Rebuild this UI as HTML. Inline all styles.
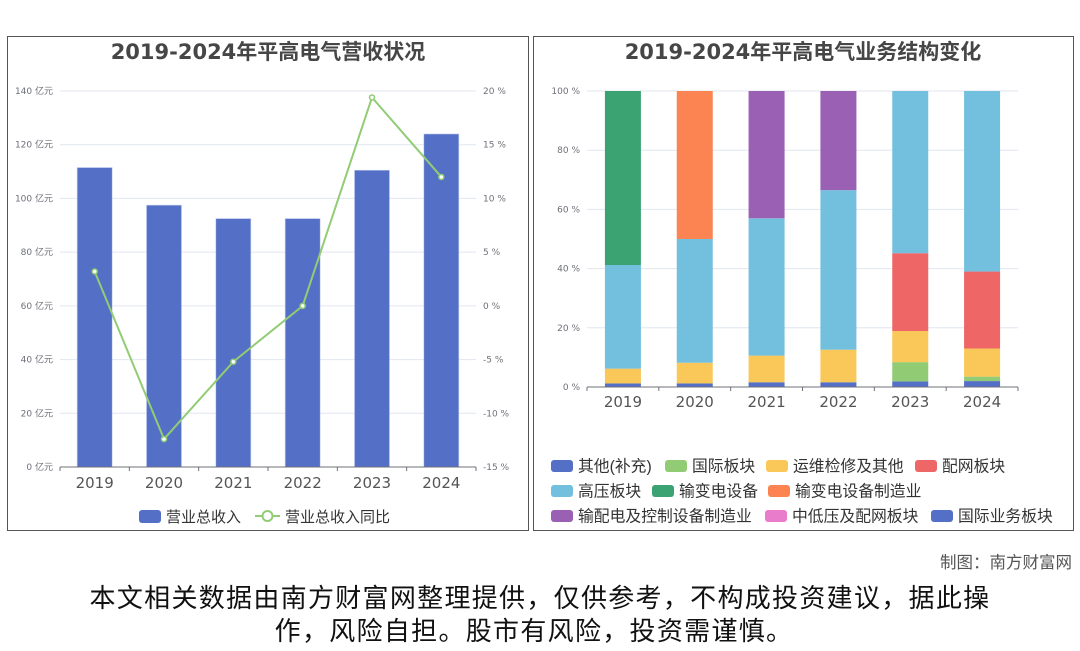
<!DOCTYPE html>
<html><head><meta charset="utf-8">
<style>
html,body{margin:0;padding:0;background:#fff;}
body{width:1080px;height:646px;overflow:hidden;font-family:"Liberation Sans","Noto Sans CJK SC",sans-serif;}
svg text{font-family:"Liberation Sans","Noto Sans CJK SC",sans-serif;}
svg text.dv{font-family:"DejaVu Sans","Noto Sans CJK SC",sans-serif;}
</style></head>
<body>
<svg id="root" width="1080" height="646" xmlns="http://www.w3.org/2000/svg">
<rect x="7.5" y="36.5" width="521" height="494" fill="none" stroke="#555" stroke-width="1"/>
<rect x="533.5" y="36.5" width="540" height="494" fill="none" stroke="#555" stroke-width="1"/>
<text class="dv" x="268" y="59" text-anchor="middle" font-size="21" font-weight="bold" fill="#464646">2019-2024年平高电气营收状况</text>
<text class="dv" x="803" y="59" text-anchor="middle" font-size="21" font-weight="bold" fill="#464646">2019-2024年平高电气业务结构变化</text>
<g id="left"></g>
<g id="right"></g>
<text x="1072" y="568" text-anchor="end" font-size="16.5" fill="#555">制图：南方财富网</text>
<text x="540" y="607" text-anchor="middle" font-size="26" letter-spacing="1.3" fill="#111">本文相关数据由南方财富网整理提供，仅供参考，不构成投资建议，据此操</text>
<text x="534" y="640" text-anchor="middle" font-size="26" letter-spacing="1.3" fill="#111">作，风险自担。股市有风险，投资需谨慎。</text>
</svg>
<script>
const years = ['2019','2020','2021','2022','2023','2024'];
const revenue = [111.5, 97.5, 92.5, 92.5, 110.5, 124];
const growth = [3.2, -12.4, -5.2, 0, 19.4, 12];
const leftTicks = [0,20,40,60,80,100,120,140];
const rightTicks = [-15,-10,-5,0,5,10,15,20];

const seriesNames = ['其他(补充)','国际板块','运维检修及其他','配网板块','高压板块','输变电设备','输变电设备制造业','输配电及控制设备制造业','中低压及配网板块','国际业务板块'];
const seriesColors = ['#5470c6','#91cc75','#fac858','#ee6666','#73c0de','#3ba272','#fc8452','#9a60b4','#ea7ccc','#5470c6'];
const sOther = [1.2, 1.2, 1.6, 1.6, 1.9, 2.0];
const sIntl = [0, 0, 0, 0, 6.5, 1.5];
const sOps = [5.0, 7.0, 9.0, 11.0, 10.5, 9.5];
const sDist = [0, 0, 0, 0, 26.3, 26.0];
const sHV = [35.0, 41.8, 46.4, 53.9, 54.8, 61.0];
const sTrans = [58.8, 0, 0, 0, 0, 0];
const sTransMfg = [0, 50.0, 0, 0, 0, 0];
const sCtrlMfg = [0, 0, 43.0, 33.5, 0, 0];
const sMidLow = [0, 0, 0, 0, 0, 0];
const sIntlBiz = [0, 0, 0, 0, 0, 0];
const pctTicks = [0,20,40,60,80,100];

const NS='http://www.w3.org/2000/svg';
function mk(parent, tag, attrs, text){const e=document.createElementNS(NS,tag);for(const k in attrs)e.setAttribute(k,attrs[k]);if(text!==undefined)e.textContent=text;parent.appendChild(e);return e;}

// LEFT
const L=document.getElementById('left');
const lx0=60, lx1=476, ly0=467, ly1=91;
const band=(lx1-lx0)/years.length;
const xL=i=>lx0+band*(i+0.5);
const yL=v=>ly0-(v/140)*(ly0-ly1);
const yR=v=>ly0-((v+15)/35)*(ly0-ly1);
leftTicks.forEach(t=>{
  const g=mk(L,'line',{x1:lx0,x2:lx1,y1:yL(t),y2:yL(t),stroke:'#e0e6f1'});
  
  
  const tx=mk(L,'text',{x:53,y:yL(t)+3,'text-anchor':'end','font-size':9,fill:'#6e7079',class:'dv'},t+' 亿元');
  
  
});
rightTicks.forEach(t=>{
  const tx=mk(L,'text',{x:483,y:yR(t)+3,'font-size':9,fill:'#6e7079',class:'dv'},t+' %');
  
  
});
revenue.forEach((v,i)=>{
  const r=mk(L,'rect',{x:xL(i)-17.5,y:yL(v),width:35,height:ly0-yL(v),fill:'#5470c6',stroke:'#c3cdf0','stroke-width':0.6});
  
  
});
const ax=mk(L,'line',{x1:lx0,x2:lx1,y1:ly0,y2:ly0,stroke:'#6e7079'});


for(let i=0;i<=years.length;i++){mk(L,'line',{x1:lx0+band*i,x2:lx0+band*i,y1:ly0,y2:ly0+4,stroke:'#6e7079'});}
years.forEach((y,i)=>{
  const t=mk(L,'text',{x:xL(i),y:488,'text-anchor':'middle','font-size':15,fill:'#555',class:'dv'},y);
  
  
});
const pl=mk(L,'polyline',{points:growth.map((v,i)=>xL(i)+','+yR(v)).join(' '),fill:'none',stroke:'#91cc75','stroke-width':2});


growth.forEach((v,i)=>{
  const c=mk(L,'circle',{cx:xL(i),cy:yR(v),r:2.5,fill:'#fff',stroke:'#91cc75','stroke-width':1.5});
  
  
});
const lg1=mk(L,'g',{});


mk(lg1,'rect',{x:139,y:510,width:22,height:13,rx:3,fill:'#5470c6'});
mk(lg1,'text',{x:166,y:522,'font-size':15,fill:'#333'},'营业总收入');
const lg2=mk(L,'g',{});


mk(lg2,'line',{x1:255,x2:280,y1:516,y2:516,stroke:'#91cc75','stroke-width':2});
mk(lg2,'circle',{cx:267.5,cy:516,r:5,fill:'#fff',stroke:'#91cc75','stroke-width':2});
mk(lg2,'text',{x:285,y:522,'font-size':15,fill:'#333'},'营业总收入同比');

// RIGHT
const R=document.getElementById('right');
const rx0=587, rx1=1018, ry0=387, ry1=91;
const rb=(rx1-rx0)/years.length;
const xS=i=>rx0+rb*(i+0.5);
const yS=v=>ry0-(v/100)*(ry0-ry1);
pctTicks.forEach(t=>{
  const g=mk(R,'line',{x1:rx0,x2:rx1,y1:yS(t),y2:yS(t),stroke:'#e0e6f1'});
  
  
  const tx=mk(R,'text',{x:580,y:yS(t)+3,'text-anchor':'end','font-size':9,fill:'#6e7079',class:'dv'},t+' %');
  
  
});
const allSeries=[sOther,sIntl,sOps,sDist,sHV,sTrans,sTransMfg,sCtrlMfg,sMidLow,sIntlBiz];
years.forEach((y,i)=>{
  let acc=0;
  allSeries.forEach((s,k)=>{
    const v=s[i]; if(!v) return;
    const r=mk(R,'rect',{x:xS(i)-18,y:yS(acc+v),width:36,height:yS(acc)-yS(acc+v),fill:seriesColors[k]});
    
    
    acc+=v;
  });
});
const ax2=mk(R,'line',{x1:rx0,x2:rx1,y1:ry0,y2:ry0,stroke:'#6e7079'});


for(let i=0;i<=years.length;i++){mk(R,'line',{x1:rx0+rb*i,x2:rx0+rb*i,y1:ry0,y2:ry0+4,stroke:'#6e7079'});}
years.forEach((y,i)=>{
  const t=mk(R,'text',{x:xS(i),y:407,'text-anchor':'middle','font-size':15,fill:'#555',class:'dv'},y);
  
  
});
const legPos=[[551,466],[665,466],[766,466],[915,466],[551,491],[652,491],[768,491],[551,516],[765,516],[931,516]];
seriesNames.forEach((n,k)=>{
  const g=mk(R,'g',{});
  
  
  const [x,y]=legPos[k];
  mk(g,'rect',{x:x,y:y-6,width:22,height:12,rx:3,fill:seriesColors[k]});
  mk(g,'text',{x:x+27,y:y+5.5,'font-size':15.8,fill:'#333'},n);
});
</script>
</body></html>
